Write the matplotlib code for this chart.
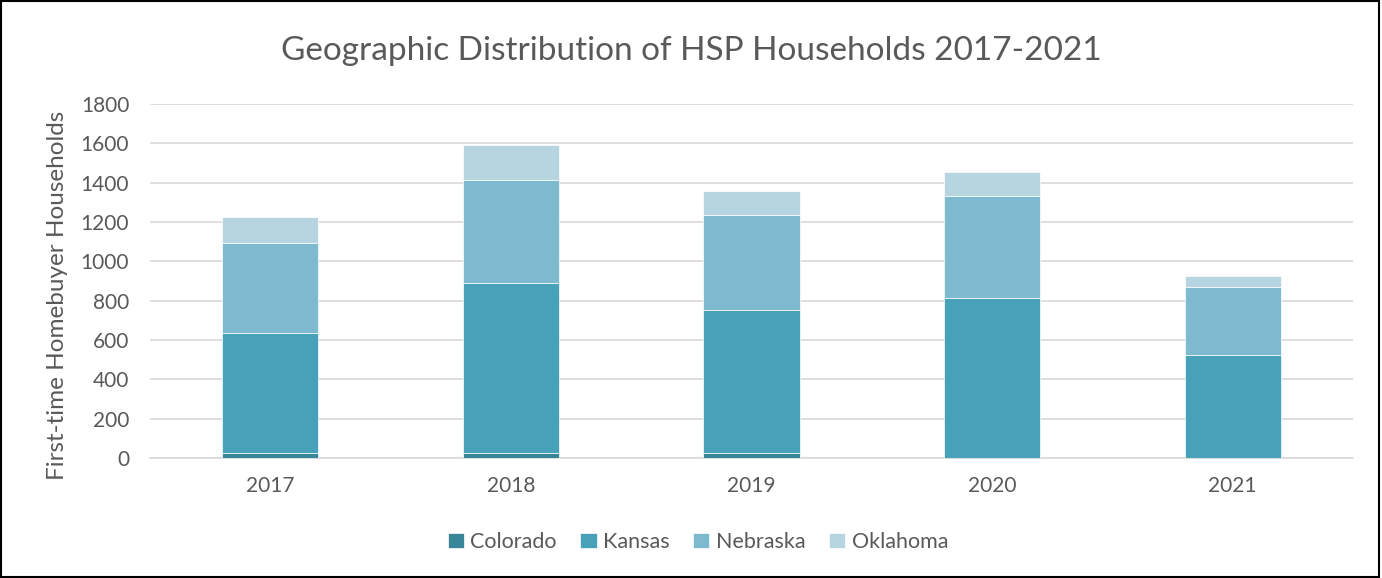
import numpy as np
import matplotlib.pyplot as plt
from matplotlib.patches import Rectangle

# values
years = ["2017", "2018", "2019", "2020", "2021"]
colorado = [25, 25, 25, 0, 0]
kansas = [610, 865, 727, 812, 524]
nebraska = [458, 523, 485, 522, 344]
oklahoma = [132, 180, 120, 118, 59]

series = [("Colorado", colorado, "#3a8699"),
          ("Kansas", kansas, "#47a2b9"),
          ("Nebraska", nebraska, "#7db9cf"),
          ("Oklahoma", oklahoma, "#b7d5e0")]

plt.rcParams['font.family'] = ['Lato', 'DejaVu Sans']

fig = plt.figure(figsize=(13.82, 5.78), dpi=100)
ax = fig.add_axes([150/1382, 1-458/578, (1353-150)/1382, (458-104)/578])

x = np.arange(len(years))
bottom = np.zeros(len(years))
for name, vals, col in series:
    ax.bar(x, vals, 0.4, bottom=bottom, color=col, label=name,
           edgecolor="white", linewidth=0.5, zorder=3)
    bottom += np.array(vals)

ax.set_xlim(-0.5, len(years) - 0.5)
ax.set_ylim(0, 1800)
ax.set_yticks(range(0, 1801, 200))
ax.set_xticks(x)
ax.set_xticklabels(years)
ax.grid(axis="y", color="#d9d9d9", linewidth=1.2, zorder=0)
for s in ["top", "right", "left"]:
    ax.spines[s].set_visible(False)
ax.spines["bottom"].set_color("#d9d9d9")
ax.spines["bottom"].set_linewidth(1.2)
ax.tick_params(length=0, labelsize=15, colors="#595959")
ax.tick_params(axis="y", pad=15)
ax.tick_params(axis="x", pad=13)

ax.set_ylabel("First-time Homebuyer Households", fontsize=17.5, color="#595959",
              va="center")
ax.yaxis.set_label_coords(-0.0765, 0.458)
fig.text(0.5, 1-51/578, "Geographic Distribution of HSP Households 2017-2021",
         ha="center", va="center", fontsize=24, color="#595959")

handles, labels = ax.get_legend_handles_labels()
fig.legend(handles, labels, loc="center", bbox_to_anchor=(698/1382, 1-542/578), ncol=4,
           frameon=False, fontsize=15.5, handlelength=0.75, handleheight=0.75,
           handletextpad=0.3, columnspacing=1.1, labelcolor="#595959")

fig.add_artist(Rectangle((0.001, 0.002), 0.997, 0.996, transform=fig.transFigure,
                         fill=False, edgecolor="black", linewidth=1.5))

fig.savefig("out.png", dpi=100)
